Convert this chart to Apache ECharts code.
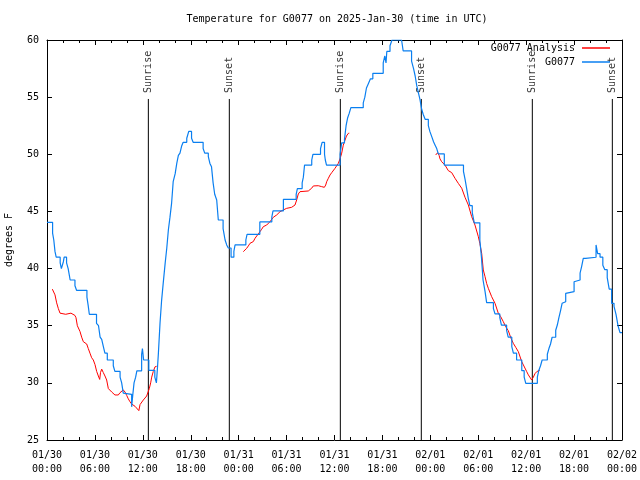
<!DOCTYPE html>
<html>
<head>
<meta charset="utf-8">
<script src="https://cdn.jsdelivr.net/npm/echarts@6/dist/echarts.min.js"></script>
<style>html,body{margin:0;padding:0;background:#fff;}#chart{width:640px;height:480px;}</style>
</head>
<body>
<div id="chart"></div>
<script>
// Time is hours since 2025-01-30 00:00 UTC
const titleText = 'Temperature for G0077 on 2025-Jan-30 (time in UTC)';
const xTickLabels = ['01/30\n00:00','01/30\n06:00','01/30\n12:00','01/30\n18:00','01/31\n00:00','01/31\n06:00','01/31\n12:00','01/31\n18:00','02/01\n00:00','02/01\n06:00','02/01\n12:00','02/01\n18:00','02/02\n00:00'];
const yTicks = [25, 30, 35, 40, 45, 50, 55, 60];

const sunEventNames = ['Sunrise','Sunset','Sunrise','Sunset','Sunrise','Sunset'];
const sunEventHours = [12.69, 22.83, 36.73, 46.87, 60.77, 70.79];
const sunLineBottom = 25;
const sunLineTop = 54.84;

const observedName = 'G0077';
const observed = [
[0.0,44.05],[0.7,43.1],[0.85,42.5],[1.0,41.5],[1.15,41.0],[1.65,40.5],[1.8,40.0],[2.05,40.6],[2.15,41.0],[2.45,40.5],[2.65,40.0],[2.9,39.0],[3.5,38.5],[3.7,38.1],[5.0,37.5],[5.15,36.8],[5.3,36.0],[6.2,35.2],[6.45,35.0],[6.65,34.0],[6.85,33.8],[7.05,33.2],[7.25,32.6],[7.55,32.0],[8.3,31.5],[8.5,31.0],[9.15,30.5],[9.35,30.0],[9.55,29.1],[9.75,29.0],[10.6,27.9],[10.75,29.0],[10.9,30.0],[11.1,30.5],[11.25,31.05],[11.85,32.5],[11.95,33.0],[12.1,32.0],[12.75,31.1],[13.5,30.5],[13.7,30.0],[13.85,31.5],[13.95,32.6],[14.15,35.2],[14.35,37.2],[14.55,38.7],[14.8,40.5],[15.0,41.8],[15.2,43.4],[15.4,44.5],[15.6,45.7],[15.8,47.6],[16.05,48.3],[16.25,49.2],[16.45,49.9],[16.65,50.1],[16.85,50.7],[17.05,51.05],[17.5,51.4],[17.75,52.0],[18.1,51.4],[18.3,51.05],[19.55,50.5],[19.75,50.1],[20.2,49.8],[20.4,49.2],[20.6,48.9],[20.8,47.5],[21.0,46.5],[21.25,46.0],[21.45,44.25],[22.05,43.5],[22.3,42.5],[22.5,42.07],[22.7,41.8],[23.05,41.0],[23.4,41.5],[23.55,42.07],[24.9,42.5],[25.05,43.0],[26.65,44.08],[28.15,44.5],[28.3,45.04],[29.6,46.06],[31.2,46.5],[31.35,47.0],[31.95,47.5],[32.1,48.0],[32.25,49.06],[33.15,49.5],[33.3,50.0],[34.25,50.5],[34.45,51.05],[34.75,50.0],[34.85,49.5],[35.0,49.06],[36.7,50.0],[36.9,51.0],[37.25,51.3],[37.45,52.5],[37.65,53.2],[37.85,53.6],[38.05,54.08],[39.6,54.5],[39.8,55.0],[40.0,55.8],[40.25,56.2],[40.5,56.6],[40.8,57.08],[42.1,58.0],[42.3,58.6],[42.45,58.0],[42.55,59.0],[42.95,59.5],[43.2,60.0],[44.4,60.0],[44.6,59.04],[45.65,58.16],[45.9,57.5],[46.1,56.85],[46.3,56.0],[46.5,55.4],[46.7,54.8],[46.9,54.0],[47.1,53.5],[47.35,53.06],[47.75,52.5],[47.95,51.98],[48.2,51.5],[48.4,51.1],[48.6,50.8],[48.8,50.5],[49.0,50.03],[49.75,49.06],[52.15,48.5],[52.35,47.8],[52.55,47.0],[52.75,46.15],[52.95,45.5],[53.25,44.9],[53.5,44.0],[54.2,42.5],[54.4,41.0],[54.6,39.0],[54.85,38.0],[55.05,37.02],[55.9,36.5],[56.1,36.03],[56.7,35.7],[56.9,35.06],[57.55,34.6],[57.75,34.0],[58.2,33.17],[58.4,32.6],[58.8,32.0],[59.45,31.07],[59.75,30.5],[59.95,29.96],[61.4,30.5],[61.6,31.13],[61.8,31.5],[62.0,32.0],[62.65,32.5],[62.85,33.0],[63.05,33.4],[63.25,33.99],[63.7,34.6],[63.9,35.06],[64.1,35.7],[64.3,36.3],[64.5,36.96],[64.75,37.1],[64.95,37.83],[65.15,37.98],[66.0,38.85],[66.2,39.0],[66.75,39.6],[66.95,40.2],[67.15,40.9],[67.45,40.99],[68.75,42.07],[68.95,41.3],[69.25,41.0],[69.6,40.3],[69.85,39.9],[70.15,39.2],[70.4,38.2],[70.7,36.96],[71.0,36.7],[71.25,36.0],[71.5,35.0],[71.75,34.4],[72.0,34.4]
];

const analysisName = 'G0077 Analysis';
const analysis = [
[0.67,38.2],[0.92,38.2],[1.0,37.7],[1.21,37.0],[1.42,36.5],[1.63,36.1],[2.34,36.0],[3.0,36.1],[3.5,35.9],[3.63,35.7],[3.8,35.0],[4.13,34.5],[4.34,34.0],[4.55,33.6],[4.97,33.4],[5.17,33.0],[5.38,32.6],[5.59,32.2],[5.8,32.0],[6.01,31.6],[6.22,31.0],[6.43,30.6],[6.6,30.3],[6.7,30.9],[6.85,31.2],[7.05,30.9],[7.26,30.6],[7.47,30.25],[7.68,29.5],[8.1,29.2],[8.3,29.1],[8.51,28.94],[8.93,28.94],[9.14,29.14],[9.55,29.38],[9.77,29.2],[9.98,28.9],[10.18,28.6],[10.39,28.35],[10.6,28.15],[10.81,28.1],[11.02,27.95],[11.23,27.8],[11.5,27.57],[11.65,28.1],[12.06,28.5],[12.48,28.85],[12.69,28.94],[12.81,29.5],[12.98,30.0],[13.11,30.5],[13.31,31.0],[13.52,31.4],[13.73,31.45],
null,
[24.58,41.48],[24.79,41.57],[25.0,41.77],[25.21,41.98],[25.42,42.21],[25.63,42.27],[25.83,42.36],[26.05,42.65],[26.26,42.85],[26.46,43.03],[26.67,43.23],[26.88,43.44],[27.09,43.67],[27.3,43.67],[27.51,43.81],[27.71,43.96],[27.92,44.1],[28.14,44.19],[28.34,44.49],[28.55,44.6],[28.76,44.69],[28.97,44.84],[29.18,44.98],[29.38,45.13],[29.59,45.13],[29.8,45.21],[30.01,45.27],[30.22,45.33],[30.63,45.36],[30.84,45.42],[31.05,45.56],[31.26,46.0],[31.47,46.53],[31.68,46.73],[31.89,46.79],[32.72,46.79],[32.93,46.88],[33.14,47.03],[33.35,47.23],[33.56,47.31],[33.97,47.25],[34.39,47.17],[34.73,47.11],[34.9,47.31],[35.02,47.6],[35.23,47.9],[35.44,48.19],[35.65,48.39],[35.85,48.48],[36.06,48.77],[36.27,48.92],[36.48,49.21],[36.69,49.6],[36.9,50.1],[37.1,50.8],[37.3,51.2],[37.5,51.6],[37.73,51.83],[37.85,51.85],
null,
[48.67,49.94],[48.8,50.1],[48.92,50.14],[49.1,49.9],[49.21,49.6],[49.42,49.35],[49.84,49.05],[50.25,48.57],[50.67,48.4],[51.09,47.9],[51.51,47.45],[51.93,47.03],[52.34,46.24],[52.76,45.56],[53.18,44.54],[53.59,43.81],[54.01,42.79],[54.2,42.2],[54.43,41.33],[54.63,39.88],[54.85,39.29],[55.05,38.7],[55.26,38.27],[55.68,37.54],[56.1,36.96],[56.51,36.09],[56.8,35.8],[57.14,35.35],[57.45,34.9],[57.76,34.57],[58.1,33.9],[58.39,33.46],[58.7,33.1],[59.02,32.73],[59.44,31.86],[59.65,31.57],[60.07,30.98],[60.27,30.7],[60.69,30.25],[60.9,30.5],[61.1,30.8],[61.32,30.98],[61.5,31.1],[61.73,31.13]
];

const FONT = 'DejaVu Sans Mono';
const chart = echarts.init(document.getElementById('chart'), null, {renderer: 'canvas'});

const sunSeries = sunEventHours.map(function (h, i) {
  return {
    type: 'line', name: 'sun' + i, silent: true, symbol: 'none', animation: false,
    lineStyle: {color: '#000', width: 1},
    data: [[h, sunLineBottom], [h, sunLineTop]]
  };
});

const baseX = {
  type: 'value', min: 0, max: 72, interval: 6,
  axisLine: {show: true, onZero: false, lineStyle: {color: '#000', width: 1}},
  splitLine: {show: false}
};
const baseY = {
  type: 'value', min: 25, max: 60, interval: 5,
  axisLine: {show: true, onZero: false, lineStyle: {color: '#000', width: 1}},
  splitLine: {show: false}
};

const option = {
  animation: false,
  backgroundColor: '#fff',
  title: {
    text: titleText, left: 332, top: 9, textAlign: 'center',
    textStyle: {fontFamily: FONT, fontSize: 10, fontWeight: 'normal', color: '#000'}
  },
  grid: {left: 47, right: 18, top: 40, bottom: 40, containLabel: false, outerBoundsMode: 'none'},
  legend: [
    {data: [analysisName], right: 30, top: 43, padding: 0, align: 'right', icon: 'rect', itemWidth: 28, itemHeight: 1.5, itemGap: 0,
     textStyle: {fontFamily: FONT, fontSize: 10, color: '#000', padding: [0, 2, 0, 0]}},
    {data: [observedName], right: 30, top: 57, padding: 0, align: 'right', icon: 'rect', itemWidth: 28, itemHeight: 1.5, itemGap: 0,
     textStyle: {fontFamily: FONT, fontSize: 10, color: '#000', padding: [0, 2, 0, 0]}}
  ],
  xAxis: [
    Object.assign({}, baseX, {
      position: 'bottom',
      axisTick: {show: true, inside: true, length: 5, lineStyle: {color: '#000'}},
      minorTick: {show: true, splitNumber: 3, length: 3, lineStyle: {color: '#000'}},
      axisLabel: {show: true, margin: 8, fontFamily: FONT, fontSize: 10, color: '#000', lineHeight: 14,
        formatter: function (v) { return xTickLabels[Math.round(v / 6)]; }}
    }),
    Object.assign({}, baseX, {
      position: 'top',
      axisTick: {show: true, inside: true, length: 5, lineStyle: {color: '#000'}},
      minorTick: {show: true, splitNumber: 3, length: 3, lineStyle: {color: '#000'}},
      axisLabel: {show: false}
    })
  ],
  yAxis: [
    Object.assign({}, baseY, {
      position: 'left',
      name: 'degrees F', nameLocation: 'middle', nameRotate: 90, nameGap: 33,
      nameTextStyle: {fontFamily: FONT, fontSize: 10, color: '#000'},
      axisTick: {show: true, inside: true, length: 5, lineStyle: {color: '#000'}},
      axisLabel: {show: true, margin: 8, fontFamily: FONT, fontSize: 10, color: '#000',
        formatter: function (v) { return yTicks.indexOf(v) >= 0 ? String(v) : ''; }}
    }),
    Object.assign({}, baseY, {
      position: 'right',
      axisTick: {show: true, inside: true, length: 5, lineStyle: {color: '#000'}},
      axisLabel: {show: false}
    })
  ],
  series: sunSeries.concat([
    {
      type: 'scatter', name: 'sunLabels', silent: true, symbolSize: 0,
      data: sunEventHours.map(function (h, i) { return {name: sunEventNames[i], value: [h, sunLineTop]}; }),
      label: {show: true, position: 'top', distance: 6, rotate: 90, align: 'left', verticalAlign: 'middle',
        formatter: '{b}', fontFamily: FONT, fontSize: 10, color: '#000'}
    },
    {
      type: 'line', name: analysisName, symbol: 'none', connectNulls: false,
      lineStyle: {color: '#ff0000', width: 1}, itemStyle: {color: '#ff0000'},
      data: analysis
    },
    {
      type: 'line', name: observedName, symbol: 'none', step: 'end',
      lineStyle: {color: '#0a7ff0', width: 1.2}, itemStyle: {color: '#0a7ff0'},
      data: observed
    }
  ])
};
chart.setOption(option);
</script>
</body>
</html>
